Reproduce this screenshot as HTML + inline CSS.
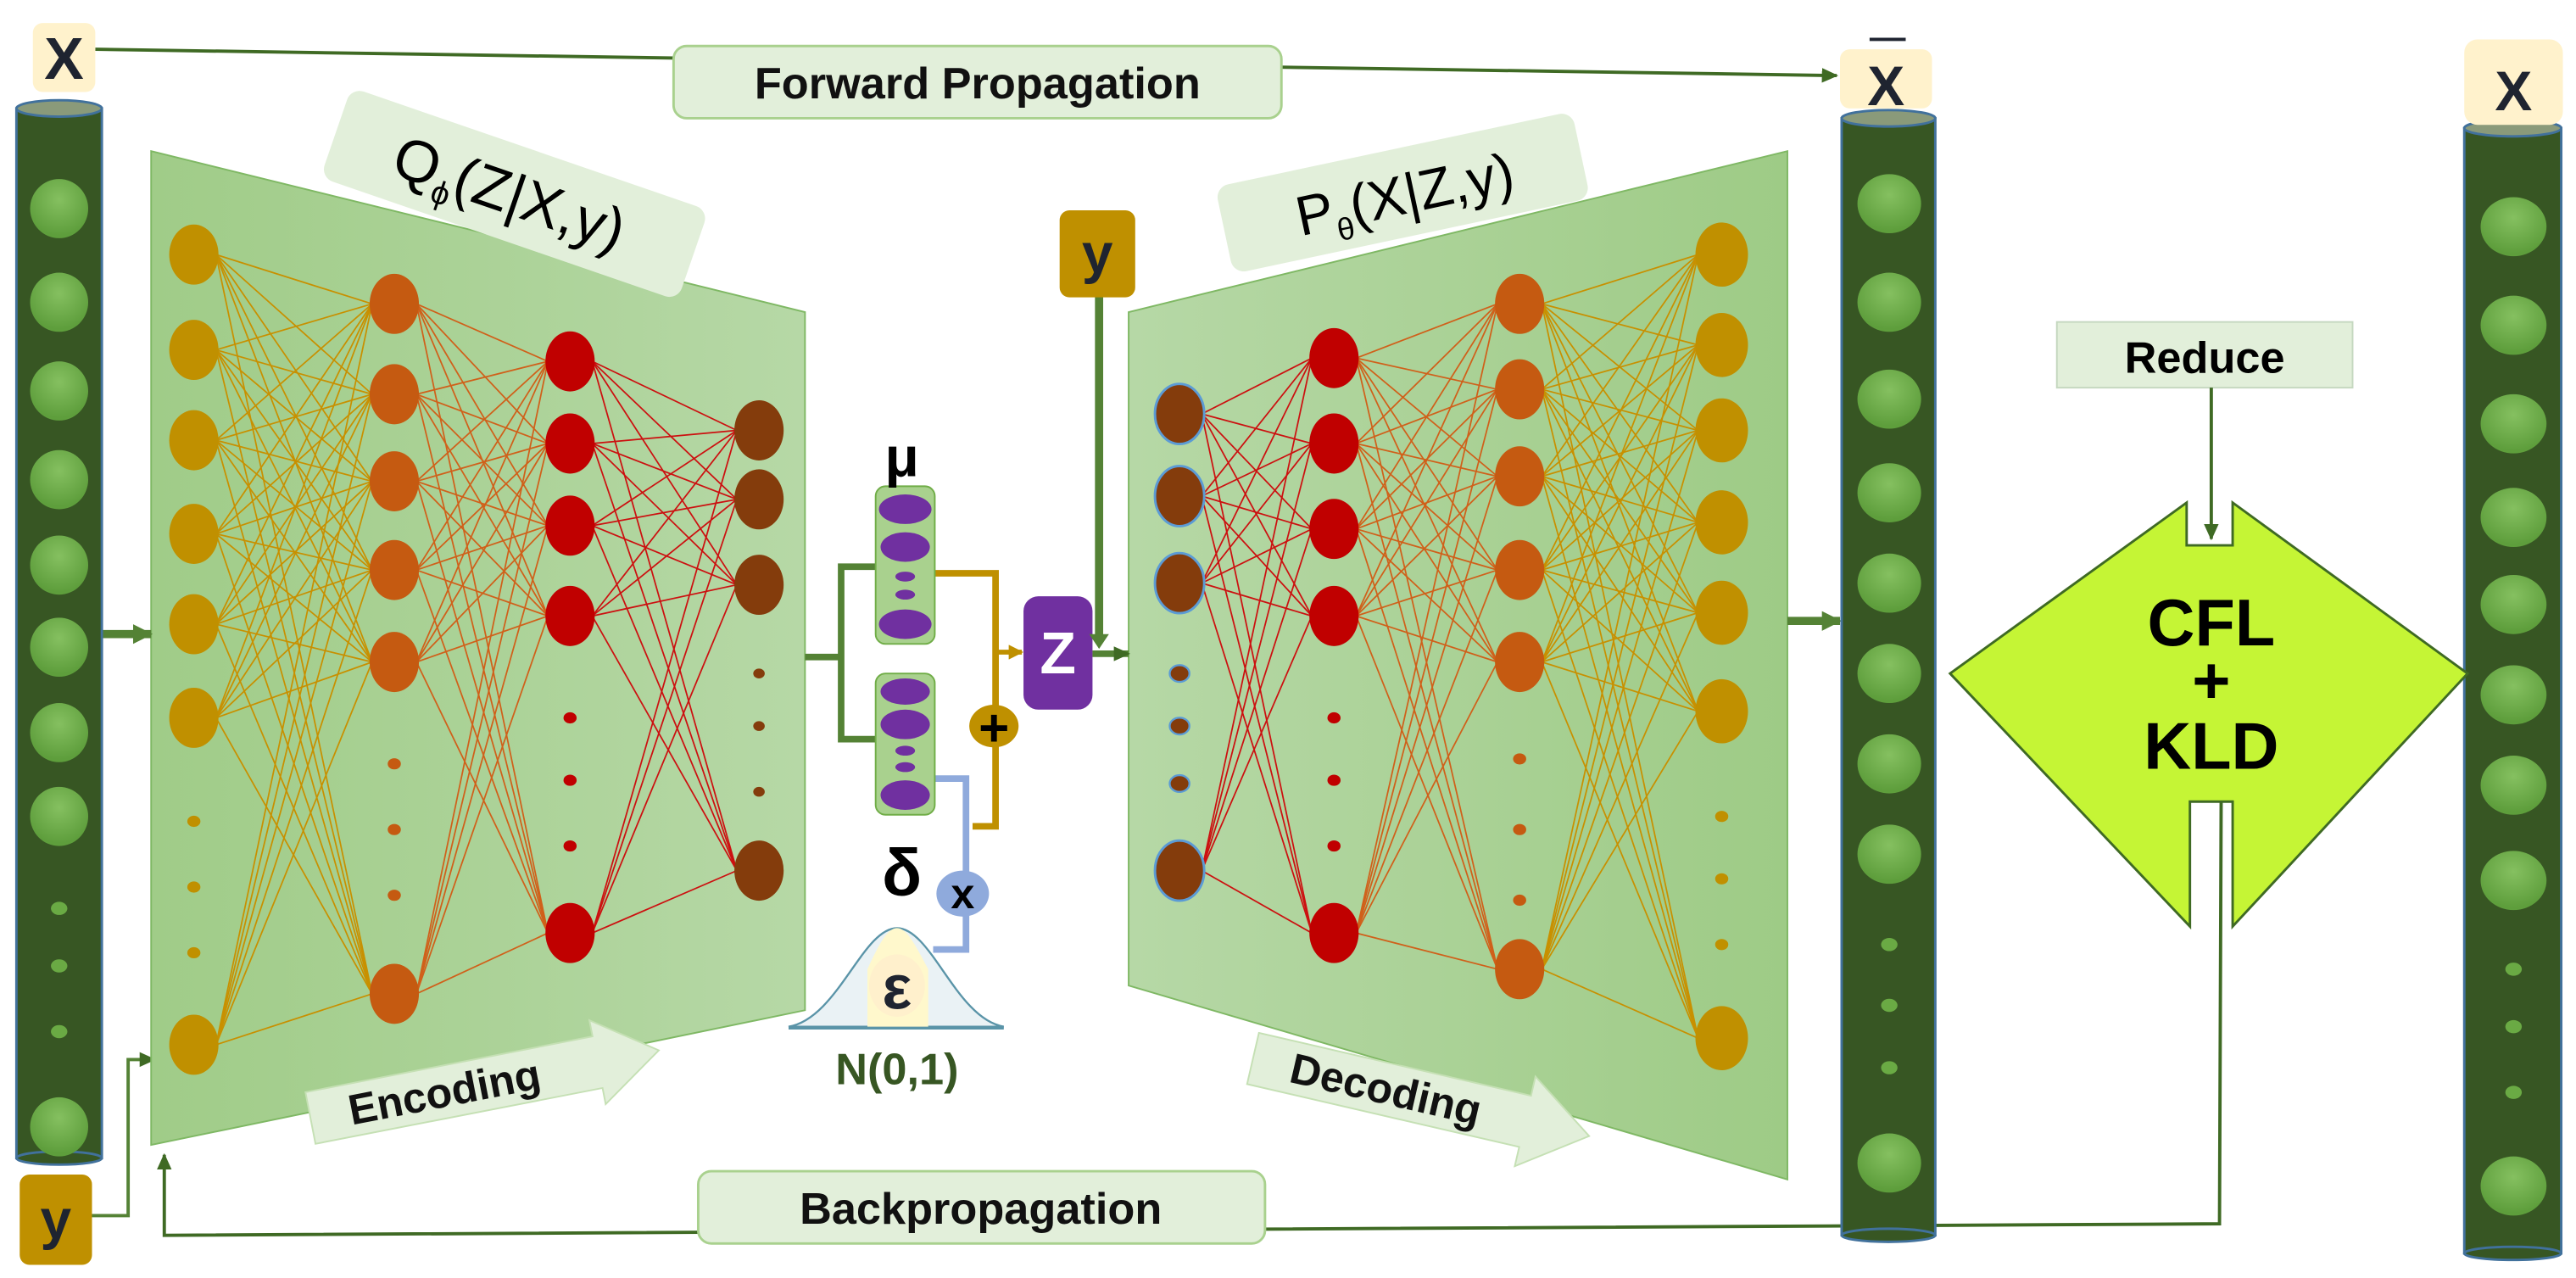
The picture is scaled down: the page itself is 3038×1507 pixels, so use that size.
<!DOCTYPE html>
<html><head><meta charset="utf-8">
<style>
html,body{margin:0;padding:0;background:#fff;}
svg{display:block;}
text{font-family:"Liberation Sans",sans-serif;font-weight:bold;}
</style></head>
<body>
<svg id="s" width="3038" height="1507" viewBox="0 0 1568 778" preserveAspectRatio="none" xmlns="http://www.w3.org/2000/svg">
<defs>
<linearGradient id="enc" x1="0" x2="1" y1="0" y2="0"><stop offset="0" stop-color="#a0cc88"/><stop offset="1" stop-color="#b6d8a6"/></linearGradient>
<linearGradient id="dec" x1="0" x2="1" y1="0" y2="0"><stop offset="0" stop-color="#b6d8a6"/><stop offset="1" stop-color="#9ecb86"/></linearGradient>
<radialGradient id="gb" cx="0.5" cy="0.35" r="0.6"><stop offset="0" stop-color="#85c060"/><stop offset="1" stop-color="#5e9e3c"/></radialGradient>
<marker id="ah" markerUnits="userSpaceOnUse" markerWidth="10" markerHeight="10" refX="9" refY="5" orient="auto"><path d="M0,0.5 L10,5 L0,9.5 z" fill="#3f6a24"/></marker>
<marker id="ahb" markerUnits="userSpaceOnUse" markerWidth="12" markerHeight="12" refX="11" refY="6" orient="auto"><path d="M0,0 L12,6 L0,12 z" fill="#548235"/></marker>
<marker id="ahg" markerUnits="userSpaceOnUse" markerWidth="9" markerHeight="9" refX="8" refY="4.5" orient="auto"><path d="M0,0 L9,4.5 L0,9 z" fill="#bf9000"/></marker>
</defs>

<line x1="58" y1="30" x2="1118" y2="46" stroke="#3f6a24" stroke-width="2" marker-end="url(#ah)"/>
<rect x="410" y="28" width="370" height="44" rx="8" fill="#e2efda" stroke="#a9d18e" stroke-width="1.5"/>
<text x="595" y="60" font-size="27" text-anchor="middle" fill="#111">Forward Propagation</text>

<polyline points="1352,488 1351,745 100,752 100,703" fill="none" stroke="#3f6a24" stroke-width="2" marker-end="url(#ah)"/>
<rect x="425" y="713" width="345" height="44" rx="8" fill="#e2efda" stroke="#a9d18e" stroke-width="1.5"/>
<text x="597" y="745" font-size="27" text-anchor="middle" fill="#111">Backpropagation</text>

<polyline points="55,740 78,740 78,645 94,645" fill="none" stroke="#548235" stroke-width="2" marker-end="url(#ah)"/>

<polygon points="92,92 490,190 490,615 92,697" fill="url(#enc)" stroke="#7fb864" stroke-width="1"/>
<g transform="translate(310,118) rotate(19)">
<rect x="-112" y="-30" width="230" height="58" rx="8" fill="#e2efda"/>
<text x="0" y="12" font-size="36" text-anchor="middle" fill="#000" style="font-weight:normal">Q<tspan font-size="20" dy="8">ϕ</tspan><tspan dy="-8">(Z|X,y)</tspan></text>
</g>
<g id="encl"></g>
<g id="encn"></g>
<g transform="translate(295,660) rotate(-11)">
<polygon points="-108,-16 70,-16 70,-26 108,0 70,26 70,16 -108,16" fill="#e2efda" stroke="#c5e0b4" stroke-width="1"/>
<text x="-25" y="9" font-size="26" text-anchor="middle" fill="#111">Encoding</text>
</g>

<polygon points="687,190 1088,92 1088,718 687,600" fill="url(#dec)" stroke="#7fb864" stroke-width="1"/>
<g transform="translate(855,118) rotate(-12)">
<rect x="-112" y="-28" width="222" height="54" rx="8" fill="#e2efda"/>
<text x="0" y="12" font-size="34" text-anchor="middle" fill="#000" style="font-weight:normal">P<tspan font-size="19" dy="8">θ</tspan><tspan dy="-8">(X|Z,y)</tspan></text>
</g>
<g id="decl"></g>
<g id="decn"></g>
<g transform="translate(865,668) rotate(13)">
<polygon points="-105,-16 65,-16 65,-28 105,0 65,28 65,16 -105,16" fill="#e2efda" stroke="#c5e0b4" stroke-width="1"/>
<text x="-22" y="9" font-size="26" text-anchor="middle" fill="#111">Decoding</text>
</g>

<line x1="62" y1="386" x2="92" y2="386" stroke="#548235" stroke-width="5" marker-end="url(#ahb)"/>
<line x1="1088" y1="378" x2="1120" y2="378" stroke="#548235" stroke-width="5" marker-end="url(#ahb)"/>

<polyline points="490,400 512,400" stroke="#548235" stroke-width="4" fill="none"/>
<polyline points="535,345 512,345 512,450 535,450" stroke="#548235" stroke-width="4" fill="none"/>
<polyline points="568,349 606,349 606,503 592,503" stroke="#bf9000" stroke-width="4" fill="none"/>
<line x1="606" y1="397" x2="622" y2="397" stroke="#bf9000" stroke-width="3" marker-end="url(#ahg)"/>
<polyline points="569,474 588,474 588,578 568,578" stroke="#8faadc" stroke-width="4" fill="none"/>
<rect x="533" y="296" width="36" height="96" rx="6" fill="#a9d18e" stroke="#70ad47" stroke-width="1"/>
<ellipse cx="551" cy="310" rx="16" ry="9" fill="#7030a0"/>
<ellipse cx="551" cy="333" rx="15" ry="9" fill="#7030a0"/>
<ellipse cx="551" cy="351" rx="6" ry="3" fill="#7030a0"/>
<ellipse cx="551" cy="362" rx="6" ry="3" fill="#7030a0"/>
<ellipse cx="551" cy="380" rx="16" ry="9" fill="#7030a0"/>
<rect x="533" y="410" width="36" height="86" rx="6" fill="#a9d18e" stroke="#70ad47" stroke-width="1"/>
<ellipse cx="551" cy="421" rx="15" ry="8" fill="#7030a0"/>
<ellipse cx="551" cy="441" rx="15" ry="9" fill="#7030a0"/>
<ellipse cx="551" cy="457" rx="6" ry="3" fill="#7030a0"/>
<ellipse cx="551" cy="467" rx="6" ry="3" fill="#7030a0"/>
<ellipse cx="551" cy="484" rx="15" ry="9" fill="#7030a0"/>
<text x="549" y="290" font-size="34" text-anchor="middle" fill="#000">μ</text>
<text x="549" y="545" font-size="40" text-anchor="middle" fill="#000">δ</text>
<ellipse cx="605" cy="442" rx="15" ry="13" fill="#bf9000"/>
<text x="605" y="454" font-size="32" text-anchor="middle" fill="#000">+</text>
<ellipse cx="586" cy="544" rx="16" ry="14" fill="#8faadc"/>
<text x="586" y="553" font-size="26" text-anchor="middle" fill="#000">x</text>
<rect x="623" y="363" width="42" height="69" rx="9" fill="#7030a0"/>
<text x="644" y="410" font-size="36" text-anchor="middle" fill="#fff">Z</text>
<path d="M480,625 C510,620 525,565 546,565 C567,565 582,620 611,625 Z" fill="#eaf2f5" stroke="#5a94a8" stroke-width="1.2"/>
<path d="M528,590 C535,575 540,565 546,565 C552,565 557,575 565,590 L565,625 L528,625 Z" fill="#fff8cc"/>
<line x1="480" y1="626" x2="611" y2="626" stroke="#5a94a8" stroke-width="1.5"/>
<ellipse cx="546" cy="600" rx="17" ry="19" fill="#fff0cc"/>
<text x="546" y="614" font-size="38" text-anchor="middle" fill="#1f2430">ε</text>
<text x="546" y="660" font-size="27" text-anchor="middle" fill="#375623">N(0,1)</text>

<line x1="669" y1="180" x2="669" y2="390" stroke="#548235" stroke-width="5"/>
<path d="M663,386 L675,386 L669,395 z" fill="#548235"/>
<line x1="665" y1="398" x2="687" y2="398" stroke="#548235" stroke-width="4" marker-end="url(#ah)"/>
<rect x="645" y="128" width="46" height="53" rx="6" fill="#bf9000"/>
<text x="668" y="166" font-size="34" text-anchor="middle" fill="#1f2430">y</text>
<rect x="12" y="715" width="44" height="55" rx="6" fill="#bf9000"/>
<text x="34" y="754" font-size="34" text-anchor="middle" fill="#1f2430">y</text>

<g id="pillars"></g>

<rect x="20" y="14" width="38" height="42" rx="6" fill="#fff2cc"/>
<text x="39" y="48" font-size="36" text-anchor="middle" fill="#1f2430">X</text>
<rect x="1120" y="30" width="56" height="36" rx="6" fill="#fff2cc"/>
<line x1="1138" y1="24" x2="1160" y2="24" stroke="#1f2430" stroke-width="2"/>
<text x="1148" y="64" font-size="34" text-anchor="middle" fill="#1f2430">X</text>
<rect x="1500" y="24" width="60" height="52" rx="8" fill="#fff2cc"/>
<text x="1530" y="67" font-size="34" text-anchor="middle" fill="#1f2430">X</text>

<polygon points="1187,410 1331,306 1331,332 1359,332 1359,306 1502,410 1359,564 1359,488 1333,488 1333,564" fill="#c5f535" stroke="#3f6a24" stroke-width="1.5"/>
<rect x="1252" y="196" width="180" height="40" fill="#e2efda" stroke="#c5d8c0" stroke-width="1"/>
<text x="1342" y="227" font-size="27" text-anchor="middle" fill="#000">Reduce</text>
<line x1="1346" y1="236" x2="1346" y2="328" stroke="#3f6a24" stroke-width="2" marker-end="url(#ah)"/>
<text x="1346" y="393" font-size="40" text-anchor="middle" fill="#000">CFL</text>
<text x="1346" y="428" font-size="40" text-anchor="middle" fill="#000">+</text>
<text x="1346" y="468" font-size="40" text-anchor="middle" fill="#000">KLD</text>
</svg>
<script>
var NS="http://www.w3.org/2000/svg";
function el(p,t,a){var e=document.createElementNS(NS,t);for(var k in a)e.setAttribute(k,a[k]);p.appendChild(e);return e;}
function net(lg,ng,cols,blueOutline){
 for(var c=0;c<cols.length-1;c++){
  var A=cols[c],B=cols[c+1];
  var col=B.lc;
  A.big.forEach(function(ya){B.big.forEach(function(yb){
   el(lg,"line",{x1:A.x+A.r*0.9,y1:ya,x2:B.x-B.r*0.9,y2:yb,stroke:col,"stroke-width":0.9});
  });});
 }
 cols.forEach(function(C,i){
  C.big.forEach(function(y){el(ng,"ellipse",{cx:C.x,cy:y,rx:C.r,ry:C.r*1.22,fill:C.f,stroke:(blueOutline&&i===0)?"#5b9bd5":"none","stroke-width":1.5});});
  C.dots.forEach(function(y){el(ng,"ellipse",{cx:C.x,cy:y,rx:C.dr,ry:C.dr*0.85,fill:C.f,stroke:(blueOutline&&i===0)?"#5b9bd5":"none","stroke-width":1.2});});
 });
}
var g1="#c09000",o="#c55a11",r="#c00000",b="#843c0c";
net(document.getElementById("encl"),document.getElementById("encn"),[
 {x:118,r:15,f:g1,big:[155,213,268,325,380,437,636],dots:[500,540,580],dr:4},
 {x:240,r:15,f:o,lc:"#c89000",big:[185,240,293,347,403,605],dots:[465,505,545],dr:4},
 {x:347,r:15,f:r,lc:"#d0601a",big:[220,270,320,375,568],dots:[437,475,515],dr:4},
 {x:462,r:15,f:b,lc:"#cc1010",big:[262,304,356,530],dots:[410,442,482],dr:3.5}
],false);
net(document.getElementById("decl"),document.getElementById("decn"),[
 {x:718,r:15,f:b,big:[252,302,355,530],dots:[410,442,477],dr:6},
 {x:812,r:15,f:r,lc:"#cc1010",big:[218,270,322,375,568],dots:[437,475,515],dr:4},
 {x:925,r:15,f:o,lc:"#d0601a",big:[185,237,290,347,403,590],dots:[462,505,548],dr:4},
 {x:1048,r:16,f:g1,lc:"#c89000",big:[155,210,262,318,373,433,632],dots:[497,535,575],dr:4}
],true);
var P=document.getElementById("pillars");
function pillar(x1,x2,top,bot,cx,big,dots){
 var w=x2-x1;
 el(P,"rect",{x:x1,y:top,width:w,height:bot-top,fill:"#375623",stroke:"#41719c","stroke-width":1.5});
 el(P,"ellipse",{cx:(x1+x2)/2,cy:bot,rx:w/2,ry:4,fill:"#375623",stroke:"#41719c","stroke-width":1.5});
 el(P,"ellipse",{cx:(x1+x2)/2,cy:top,rx:w/2,ry:5,fill:"#8a9a7a",stroke:"#41719c","stroke-width":1.5});
 big.forEach(function(y){el(P,"ellipse",{cx:cx,cy:y,rx:w*0.34,ry:18,fill:"url(#gb)"});});
 dots.forEach(function(y){el(P,"ellipse",{cx:cx,cy:y,rx:5,ry:4,fill:"#6aaa44"});});
}
pillar(10,62,66,705,36,[127,184,238,292,344,394,446,497,686],[553,588,628]);
pillar(1121,1178,72,752,1150,[124,184,243,300,355,410,465,520,708],[575,612,650]);
pillar(1500,1559,78,763,1530,[138,198,258,315,368,423,478,536,722],[590,625,665]);
</script>
</body></html>
